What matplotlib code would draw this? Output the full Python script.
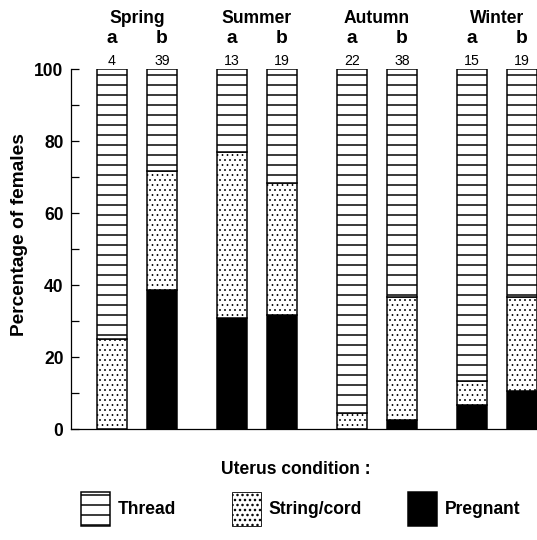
import matplotlib.pyplot as plt
import numpy as np
from matplotlib.patches import Patch

plt.rcParams['font.family'] = ['Liberation Sans', 'DejaVu Sans']
plt.rcParams['hatch.linewidth'] = 1.8

seasons = ['Spring', 'Summer', 'Autumn', 'Winter']
sub = ['a', 'b']
counts = [4, 39, 13, 19, 22, 38, 15, 19]
# percentages per bar (Spring a, Spring b, Summer a, ...)
pregnant = np.array([0.0, 38.5, 30.8, 31.6, 0.0, 2.6, 6.7, 10.5])
string_cord = np.array([25.0, 33.3, 46.1, 36.8, 4.5, 34.2, 6.6, 26.3])
thread = 100 - pregnant - string_cord

legend_labels = ['Thread', 'String/cord', 'Pregnant']

# bar positions: a/b pairs for each season
xpos = np.array([g * 2.4 + k * 1.0 for g in range(4) for k in range(2)])

fig = plt.figure(figsize=(537 / 60, 540 / 60), dpi=60)
ax = fig.add_axes([71 / 537, 111 / 540, 466 / 537, 360 / 540])

w = 0.6
lw = 1.8
ax.bar(xpos, pregnant, w, color='black', edgecolor='black', linewidth=lw)
with plt.rc_context({'hatch.linewidth': 1.0}):
    ax.bar(xpos, string_cord, w, bottom=pregnant, facecolor='white',
           edgecolor='black', hatch='..', linewidth=lw)
ax.bar(xpos, thread, w, bottom=pregnant + string_cord, facecolor='white',
       edgecolor='black', hatch='-', linewidth=lw)

ax.set_xlim(-0.82, 8.5)
ax.set_ylim(0, 100)
ax.spines['top'].set_visible(False)
ax.spines['right'].set_visible(False)
ax.spines['left'].set_linewidth(1.5)
ax.spines['bottom'].set_linewidth(1.5)
ax.set_xticks([])
ax.set_yticks(np.arange(0, 101, 20))
ax.set_yticks(np.arange(10, 100, 20), minor=True)
ax.tick_params(axis='y', which='both', direction='in', length=9.6, width=1.5)
ax.tick_params(axis='y', which='major', pad=9, labelsize=21)
for lab in ax.get_yticklabels():
    lab.set_fontweight('bold')

for g, s in enumerate(seasons):
    ax.text(xpos[2 * g] + 0.5, 112.8, s, ha='center', va='baseline',
            fontsize=21, fontweight='bold', clip_on=False)
for i, x in enumerate(xpos):
    ax.text(x, 107.2, sub[i % 2], ha='center', va='baseline', fontsize=23,
            fontweight='bold', clip_on=False)
    ax.text(x, 101.1, str(counts[i]), ha='center', va='baseline', fontsize=17,
            clip_on=False)

fig.text(20 / 537, 1 - 235 / 540, 'Percentage of females', rotation=90,
         ha='center', va='center', fontsize=23, fontweight='bold')

fig.text(296 / 537, 1 - 470 / 540, 'Uterus condition :', ha='center',
         va='center', fontsize=21, fontweight='bold')

handles = [Patch(facecolor='white', edgecolor='black', hatch='-', linewidth=lw),
           Patch(facecolor='white', edgecolor='black', hatch='..', linewidth=1.0),
           Patch(facecolor='black', edgecolor='black', linewidth=lw)]
handle_x = [81, 232, 408]
for h, lab, hx in zip(handles, legend_labels, handle_x):
    fig.legend([h], [lab], loc='center left',
               bbox_to_anchor=(hx / 537, 1 - 509 / 540),
               frameon=False, handlelength=1.65, handleheight=2.63,
               handletextpad=0.45, borderpad=0, borderaxespad=0,
               prop={'size': 21, 'weight': 'bold'})

fig.savefig('out.png', dpi=60)
